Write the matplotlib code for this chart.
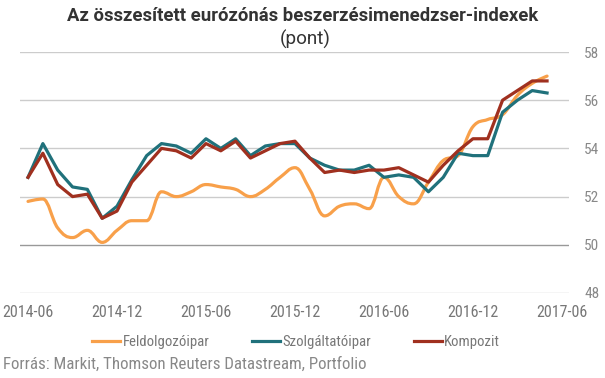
#Eurozone PMI chart: manufacturing, services, composite
import matplotlib.pyplot as plt
from matplotlib import font_manager
from matplotlib.path import Path
from matplotlib.patches import PathPatch
from matplotlib.lines import Line2D

months = ['2014-06', '2014-07', '2014-08', '2014-09', '2014-10', '2014-11', '2014-12',
          '2015-01', '2015-02', '2015-03', '2015-04', '2015-05', '2015-06', '2015-07',
          '2015-08', '2015-09', '2015-10', '2015-11', '2015-12', '2016-01', '2016-02',
          '2016-03', '2016-04', '2016-05', '2016-06', '2016-07', '2016-08', '2016-09',
          '2016-10', '2016-11', '2016-12', '2017-01', '2017-02', '2017-03', '2017-04',
          '2017-05']

feldolgozoipar = [51.8, 51.9, 50.7, 50.3, 50.6, 50.1, 50.6, 51.0, 51.0, 52.2, 52.0, 52.2,
                  52.5, 52.4, 52.3, 52.0, 52.3, 52.8, 53.2, 52.3, 51.2, 51.6, 51.7, 51.5,
                  52.8, 52.0, 51.7, 52.6, 53.5, 53.7, 54.9, 55.2, 55.4, 56.2, 56.7, 57.0]

szolgaltatoipar = [52.8, 54.2, 53.1, 52.4, 52.3, 51.1, 51.6, 52.7, 53.7, 54.2, 54.1, 53.8,
                   54.4, 54.0, 54.4, 53.7, 54.1, 54.2, 54.2, 53.6, 53.3, 53.1, 53.1, 53.3,
                   52.8, 52.9, 52.8, 52.2, 52.8, 53.8, 53.7, 53.7, 55.5, 56.0, 56.4, 56.3]

kompozit = [52.8, 53.8, 52.5, 52.0, 52.1, 51.1, 51.4, 52.6, 53.3, 54.0, 53.9, 53.6,
            54.2, 53.9, 54.3, 53.6, 53.9, 54.2, 54.3, 53.6, 53.0, 53.1, 53.0, 53.1,
            53.1, 53.2, 52.9, 52.6, 53.3, 53.9, 54.4, 54.4, 56.0, 56.4, 56.8, 56.8]

x_labels = ['2014-06', '2014-12', '2015-06', '2015-12', '2016-06', '2016-12', '2017-06']
y_ticks = [48, 50, 52, 54, 56, 58]

c_feld = '#F8A04A'
c_szolg = '#20717B'
c_komp = '#A0301F'


def month_index(label):
    #months counted from the first data month
    y0, m0 = map(int, months[0].split('-'))
    y, m = map(int, label.split('-'))
    return (y - y0) * 12 + (m - m0)


#pick a narrow font for the small texts
installed = {f.name for f in font_manager.fontManager.ttflist}
narrow_font = 'Roboto'
for cand in ['Roboto Condensed', 'Liberation Sans Narrow', 'Archivo Narrow',
             'Barlow Semi Condensed']:
    if cand in installed:
        narrow_font = cand
        break
narrow = [narrow_font, 'DejaVu Sans']
roboto = ['Roboto', 'DejaVu Sans']


def spline_path(xs, ys, smoothing=1.5):
    #smooth curve through the points (cubic bezier segments, no overshoot)
    n = len(xs)
    denom = smoothing + 1
    lc = [None] * n
    rc = [None] * n
    for i in range(1, n - 1):
        px, py = xs[i], ys[i]
        lx, ly = xs[i - 1], ys[i - 1]
        nx, ny = xs[i + 1], ys[i + 1]
        lcx = (smoothing * px + lx) / denom
        lcy = (smoothing * py + ly) / denom
        rcx = (smoothing * px + nx) / denom
        rcy = (smoothing * py + ny) / denom
        corr = ((rcy - lcy) * (rcx - px)) / (rcx - lcx) + py - rcy
        lcy += corr
        rcy += corr
        if lcy > ly and lcy > py:
            lcy = max(ly, py)
            rcy = 2 * py - lcy
        elif lcy < ly and lcy < py:
            lcy = min(ly, py)
            rcy = 2 * py - lcy
        if rcy > ny and rcy > py:
            rcy = max(ny, py)
            lcy = 2 * py - rcy
        elif rcy < ny and rcy < py:
            rcy = min(ny, py)
            lcy = 2 * py - rcy
        lc[i] = (lcx, lcy)
        rc[i] = (rcx, rcy)
    verts = [(xs[0], ys[0])]
    codes = [Path.MOVETO]
    for i in range(1, n):
        c1 = rc[i - 1] if rc[i - 1] else (xs[i - 1], ys[i - 1])
        c2 = lc[i] if lc[i] else (xs[i], ys[i])
        verts += [c1, c2, (xs[i], ys[i])]
        codes += [Path.CURVE4] * 3
    return Path(verts, codes)


fig = plt.figure(figsize=(6.05, 3.78), dpi=100)
renderer = fig.canvas.get_renderer()


def fit_size(s, target_px, family, weight='normal'):
    #font size that makes the string about target_px wide
    t = fig.text(0, 0, s, fontsize=10, family=family, fontweight=weight)
    w = t.get_window_extent(renderer).width
    t.remove()
    return 10 * target_px / w


title = 'Az összesített eurózónás beszerzésimenedzser-indexek'
source = 'Forrás: Markit, Thomson Reuters Datastream, Portfolio'
fs_x = fit_size('2014-06', 51, narrow)
fs_y = fit_size('58', 15, narrow)
fs_leg = fit_size('Feldolgozóipar', 86, narrow)
fs_src = fit_size(source, 363, narrow)
fs_title = fit_size(title, 470, roboto, 'bold')
fs_sub = fit_size('(pont)', 51, roboto)

ax = fig.add_axes([0.0331, 0.2249, 0.9074, 0.6375])

idx = list(range(len(months)))

#manufacturing drawn as a smooth curve
ax.add_patch(PathPatch(spline_path(idx, feldolgozoipar), facecolor='none',
                       edgecolor=c_feld, lw=2.3, capstyle='round', zorder=3))
ax.plot(idx, szolgaltatoipar, color=c_szolg, lw=2.3, zorder=4)
ax.plot(idx, kompozit, color=c_komp, lw=2.3, zorder=5)

ax.set_xlim(-0.54, 36.48)
ax.set_ylim(48, 58)

#gridlines
for v in y_ticks:
    ax.axhline(v, color='#999999' if v == 50 else '#cccccc', lw=1, zorder=1)

ax.yaxis.tick_right()
ax.set_yticks(y_ticks)
ax.tick_params(axis='y', length=0, pad=11, labelsize=fs_y, labelcolor='#888888')
ax.set_xticks([month_index(s) for s in x_labels])
ax.set_xticklabels(x_labels)
ax.tick_params(axis='x', length=0, pad=9, labelsize=fs_x, labelcolor='#777777')
for lab in ax.get_xticklabels() + ax.get_yticklabels():
    lab.set_family(narrow)

for s in ax.spines.values():
    s.set_visible(False)

#title and subtitle
fig.text(303 / 605, 1 - 21 / 378, title, ha='center', va='baseline',
         fontsize=fs_title, fontweight='bold', color='#333333', family=roboto)
fig.text(305 / 605, 1 - 45 / 378, '(pont)', ha='center', va='baseline',
         fontsize=fs_sub, color='#333333', family=roboto)

#legend
handles = [Line2D([], [], color=c_feld, lw=2.3),
           Line2D([], [], color=c_szolg, lw=2.3),
           Line2D([], [], color=c_komp, lw=2.3)]
pt = fs_leg / 0.75  #font size in pixels
fig.legend(handles, ['Feldolgozóipar', 'Szolgáltatóipar', 'Kompozit'], ncol=3,
           loc='center', bbox_to_anchor=(296 / 605, 1 - 342 / 378), frameon=False,
           handlelength=27 / pt, handletextpad=2 / pt, columnspacing=41 / pt,
           prop={'family': narrow, 'size': fs_leg}, labelcolor='#777777')

#source
fig.text(3 / 605, 1 - 364 / 378, source, ha='left', va='center',
         fontsize=fs_src, color='#888888', family=narrow)

plt.savefig('out.png', dpi=100)
